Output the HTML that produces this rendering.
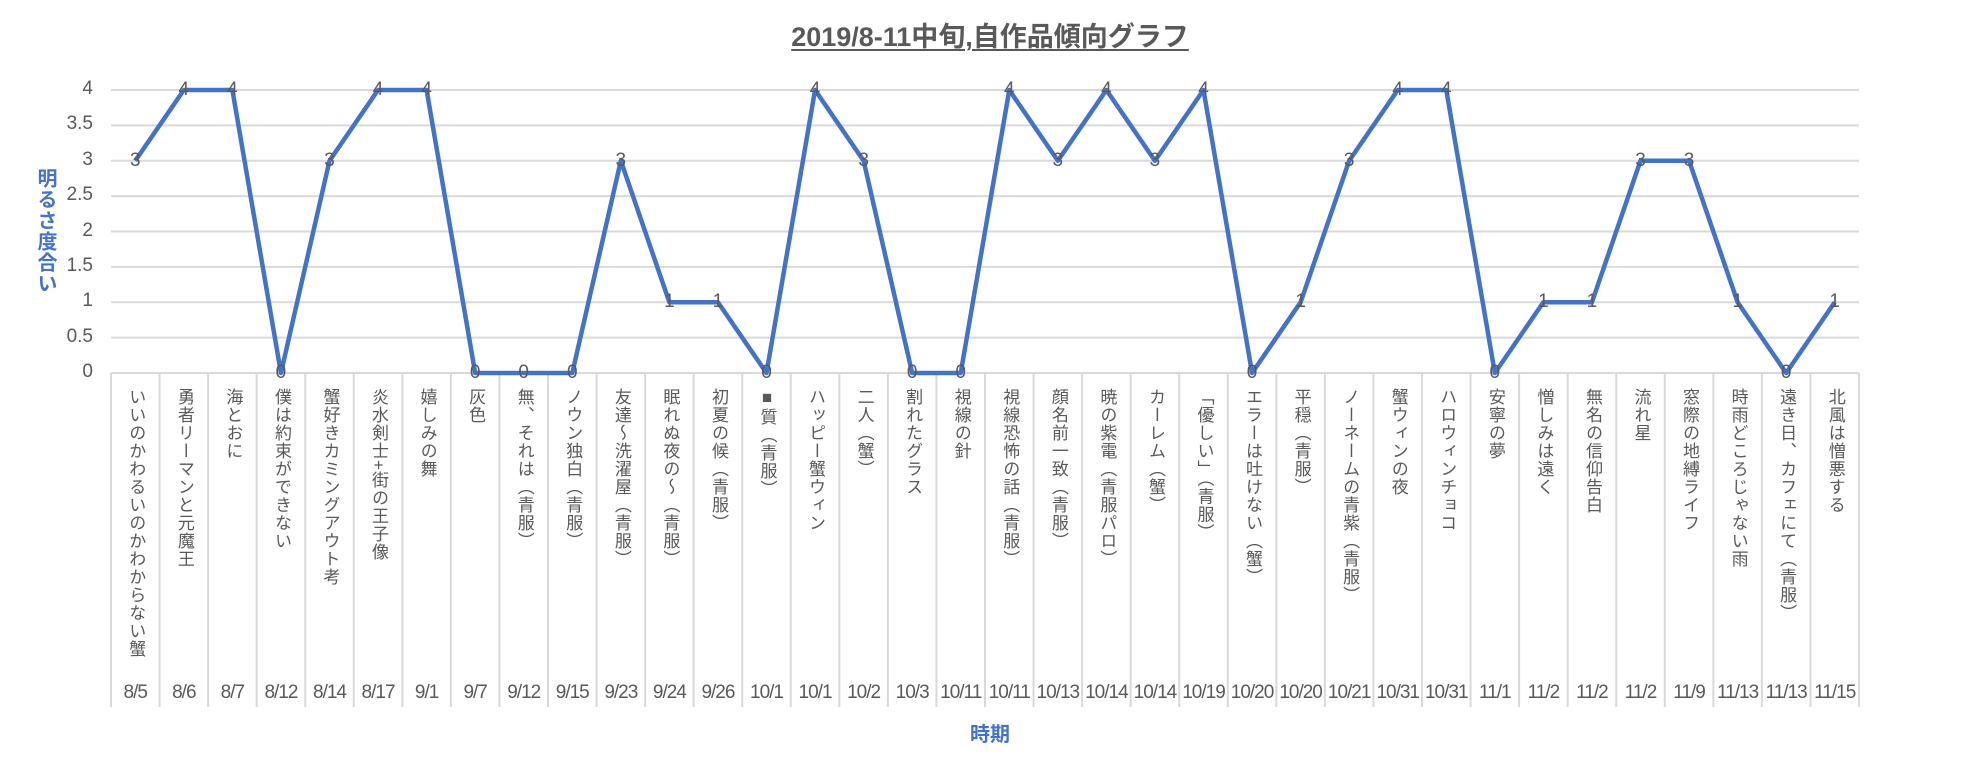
<!DOCTYPE html>
<html><head><meta charset="utf-8"><style>
body{margin:0;width:1980px;height:771px;background:#fff;overflow:hidden;position:relative;font-family:"Liberation Sans","Noto Sans CJK JP",sans-serif;color:#595959}
.t{position:absolute}
.title{left:0;width:1980px;top:22px;text-align:center;font-size:27px;font-weight:bold;line-height:30px}
.title span{text-decoration:underline;text-decoration-thickness:2px;text-underline-offset:3px}
.yt{left:35px;top:168px;writing-mode:vertical-rl;font-size:20px;font-weight:bold;color:#4472C4;line-height:20px;letter-spacing:1px}
.xt{left:0;width:1980px;top:718px;text-align:center;font-size:20px;font-weight:bold;color:#4472C4}
.tick{width:60px;left:33px;text-align:right;font-size:19px;line-height:20px}
.lab{writing-mode:vertical-rl;font-size:17px;line-height:20px;top:388px;letter-spacing:1px}
.date{font-size:19px;width:48px;text-align:center;top:682px;letter-spacing:-1px;white-space:nowrap}
.dl{font-size:19px;width:20px;text-align:center;line-height:20px}
</style></head><body>
<div class="t title"><span>2019/8-11中旬,自作品傾向グラフ</span></div>
<div class="t yt">明るさ度合い</div>
<div class="t xt">時期</div>
<svg class="t" style="left:0;top:0" width="1980" height="771" id="s"></svg>
<div id="c"></div>
<script>
var labels=["いいのかわるいのかわからない蟹","勇者リーマンと元魔王","海とおに","僕は約束ができない","蟹好きカミングアウト考","炎水剣士+街の王子像","嬉しみの舞","灰色","無、それは（青服）","ノウン独白（青服）","友達～洗濯屋（青服）","眠れぬ夜の～（青服）","初夏の候（青服）","■質（青服）","ハッピー蟹ウィン","二人（蟹）","割れたグラス","視線の針","視線恐怖の話（青服）","顔名前一致（青服）","暁の紫電（青服パロ）","カーレム（蟹）","「優しい」（青服）","エラーは吐けない（蟹）","平穏（青服）","ノーネームの青紫（青服）","蟹ウィンの夜","ハロウィンチョコ","安寧の夢","憎しみは遠く","無名の信仰告白","流れ星","窓際の地縛ライフ","時雨どころじゃない雨","遠き日、カフェにて（青服）","北風は憎悪する"];
var dates=["8/5","8/6","8/7","8/12","8/14","8/17","9/1","9/7","9/12","9/15","9/23","9/24","9/26","10/1","10/1","10/2","10/3","10/11","10/11","10/13","10/14","10/14","10/19","10/20","10/20","10/21","10/31","10/31","11/1","11/2","11/2","11/2","11/9","11/13","11/13","11/15"];
var v=[3,4,4,0,3,4,4,0,0,0,3,1,1,0,4,3,0,0,4,3,4,3,4,0,1,3,4,4,0,1,1,3,3,1,0,1];
var L=111,R=1859,Y0=373,Y4=90,n=36,w=(R-L)/n,u=(Y0-Y4)/4;
var s="",h="";
for(var i=0;i<=8;i++){var y=Y0-i*u/2;s+='<line x1="'+L+'" x2="'+R+'" y1="'+y+'" y2="'+y+'" stroke="#d9d9d9" stroke-width="2"/>';
h+='<div class="t tick" style="top:'+(y-11)+'px">'+(i/2)+'</div>';}
for(var i=0;i<=n;i++){var x=L+i*w;s+='<line x1="'+x+'" x2="'+x+'" y1="'+Y0+'" y2="707" stroke="#d9d9d9" stroke-width="2"/>';}
var p=[];for(var i=0;i<n;i++){var x=L+(i+.5)*w,y=Y0-v[i]*u;p.push(x+","+y);
h+='<div class="t lab" style="left:'+(x-10)+'px">'+labels[i]+'</div>';
h+='<div class="t date" style="left:'+(x-24)+'px">'+dates[i]+'</div>';
h+='<div class="t dl" style="left:'+(x-10)+'px;top:'+(y-10)+'px">'+v[i]+'</div>';}
s+='<polyline points="'+p.join(" ")+'" fill="none" stroke="#4472C4" stroke-width="4.5" stroke-linejoin="round"/>';
document.getElementById("s").innerHTML=s;document.getElementById("c").innerHTML=h;
</script>
</body></html>
